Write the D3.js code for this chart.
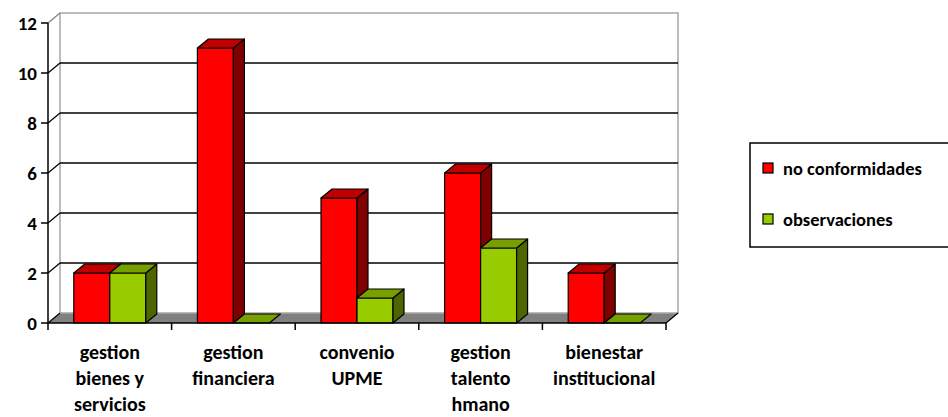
<!DOCTYPE html>
<meta charset="utf-8">
<style>
body { margin: 0; background: #fff; }
svg { display: block; }
text { font-family: Calibri, Carlito, Lato, sans-serif; font-weight: bold; fill: #000; }
.tick-label { font-size: 19px; }
.cat-label { font-size: 20px; }
.legend-label { font-size: 18.5px; }
</style>
<script src="https://d3js.org/d3.v7.min.js"></script>
<body>
<svg id="chart" width="948" height="417"></svg>
<script>
// chart data
var categories = ["gestion bienes y servicios", "gestion financiera", "convenio UPME", "gestion talento hmano", "bienestar institucional"];
var categoryLines = [["gestion", "bienes y", "servicios"], ["gestion", "financiera"], ["convenio", "UPME"], ["gestion", "talento", "hmano"], ["bienestar", "institucional"]];
var seriesNames = ["no conformidades", "observaciones"];
var noConformidades = [2, 11, 5, 6, 2];
var observaciones = [2, 0, 1, 3, 0];
var yTicks = [0, 2, 4, 6, 8, 10, 12];

var seriesValues = [noConformidades, observaciones];
var palette = [
    { front: "#ff0000", top: "#c00000", side: "#800000" },
    { front: "#99cc00", top: "#789f00", side: "#4d6600" }
];

var svg = d3.select("#chart");

// depth of the back wall and of the bars (pseudo 3d)
var wallDx = 12, wallDy = -10;
var barDx = 11, barDy = -9;

var x = d3.scaleBand().domain(categories).range([48, 666]);
var xs = d3.scaleBand().domain(seriesNames).range([0, x.bandwidth()]).paddingOuter(0.717);
var y = d3.scaleLinear().domain([0, 12]).range([323, 23]);

var x0 = x.range()[0], x1 = x.range()[1];
var y0 = y(0), yTop = y(12);

function pts(list) {
    return list.map(function(p) { return p.join(","); }).join(" ");
}

// floor
svg.append("polygon")
    .attr("points", pts([[x0, y0], [x1, y0], [x1 + wallDx, y0 + wallDy], [x0 + wallDx, y0 + wallDy]]))
    .attr("fill", "#808080")
    .attr("stroke", "none");

// back wall border
svg.append("rect")
    .attr("x", x0 + wallDx)
    .attr("y", yTop + wallDy)
    .attr("width", x1 - x0)
    .attr("height", y0 - yTop)
    .attr("fill", "none")
    .attr("stroke", "#a6a6a6")
    .attr("stroke-width", 1.5);

// gridlines on back wall + stubs to front axis
var grid = svg.append("g").attr("stroke", "#000").attr("stroke-width", 1.5);
yTicks.filter(function(t) { return t > 0 && t < 12; }).forEach(function(t) {
    grid.append("line")
        .attr("x1", x0 + wallDx).attr("x2", x1 + wallDx)
        .attr("y1", y(t) + wallDy).attr("y2", y(t) + wallDy);
});
yTicks.forEach(function(t) {
    grid.append("line")
        .attr("x1", x0).attr("y1", y(t))
        .attr("x2", x0 + wallDx).attr("y2", y(t) + wallDy)
        .attr("stroke", t === 12 ? "#808080" : "#000")
        .attr("stroke-width", 1.2);
});
// right floor edge
grid.append("line")
    .attr("x1", x1).attr("y1", y0)
    .attr("x2", x1 + wallDx).attr("y2", y0 + wallDy)
    .attr("stroke-width", 1.2);

// bars
var bars = svg.append("g").attr("stroke", "#000").attr("stroke-width", 1.2).attr("stroke-linejoin", "round");
categories.forEach(function(cat, i) {
    seriesNames.forEach(function(name, s) {
        var v = seriesValues[s][i];
        var bx = x(cat) + xs(name), w = xs.bandwidth();
        var by = y(v), c = palette[s];
        if (v > 0) {
            bars.append("rect")
                .attr("x", bx).attr("y", by)
                .attr("width", w).attr("height", y0 - by)
                .attr("fill", c.front);
            bars.append("polygon")
                .attr("points", pts([[bx + w, by], [bx + w, y0], [bx + w + barDx, y0 + barDy], [bx + w + barDx, by + barDy]]))
                .attr("fill", c.side);
        }
        bars.append("polygon")
            .attr("points", pts([[bx, by], [bx + w, by], [bx + w + barDx, by + barDy], [bx + barDx, by + barDy]]))
            .attr("fill", c.top);
    });
});

// y axis
var yAxis = svg.append("g");
yAxis.append("line")
    .attr("x1", x0).attr("x2", x0)
    .attr("y1", yTop).attr("y2", y0)
    .attr("stroke", "#000").attr("stroke-width", 1.5);
yTicks.forEach(function(t) {
    yAxis.append("line")
        .attr("x1", x0 - 7).attr("x2", x0)
        .attr("y1", y(t)).attr("y2", y(t))
        .attr("stroke", "#000").attr("stroke-width", 1.5);
    yAxis.append("text")
        .attr("class", "tick-label")
        .attr("x", 37).attr("y", y(t))
        .attr("dy", "0.36em")
        .attr("text-anchor", "end")
        .text(t);
});

// x axis
var xAxis = svg.append("g");
xAxis.append("line")
    .attr("x1", x0).attr("x2", x1)
    .attr("y1", y0).attr("y2", y0)
    .attr("stroke", "#000").attr("stroke-width", 1.5);
categories.concat([null]).forEach(function(cat, i) {
    var tx = cat === null ? x1 : x(cat);
    xAxis.append("line")
        .attr("x1", tx).attr("x2", tx)
        .attr("y1", y0).attr("y2", y0 + 7)
        .attr("stroke", "#000").attr("stroke-width", 1.5);
});
categories.forEach(function(cat, i) {
    var t = xAxis.append("text")
        .attr("class", "cat-label")
        .attr("text-anchor", "middle");
    categoryLines[i].forEach(function(line, j) {
        t.append("tspan")
            .attr("x", x(cat) + x.bandwidth() / 2)
            .attr("y", 359 + j * 26)
            .text(line);
    });
});

// legend
var legend = svg.append("g");
legend.append("rect")
    .attr("x", 750).attr("y", 143)
    .attr("width", 220).attr("height", 104)
    .attr("fill", "#fff")
    .attr("stroke", "#000").attr("stroke-width", 1.5);
seriesNames.forEach(function(name, s) {
    var ly = 168 + s * 51;
    legend.append("rect")
        .attr("x", 763).attr("y", ly - 5)
        .attr("width", 10).attr("height", 10)
        .attr("fill", palette[s].front)
        .attr("stroke", "#000").attr("stroke-width", 1.2);
    legend.append("text")
        .attr("class", "legend-label")
        .attr("x", 783).attr("y", ly)
        .attr("dy", "0.36em")
        .text(name);
});
</script>
</body>
